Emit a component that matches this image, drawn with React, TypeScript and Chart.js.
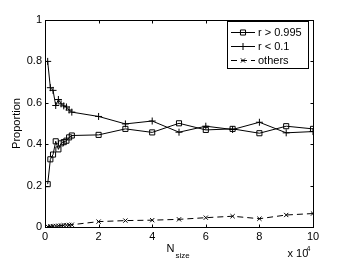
import React, { useEffect, useRef } from "react";
import { Chart, registerables } from "chart.js";

Chart.register(...registerables);

const nSize = [1000, 2000, 3000, 4000, 5000, 6000, 7000, 8000, 9000, 10000, 20000, 30000, 40000, 50000, 60000, 70000, 80000, 90000, 100000];
const rHigh = [0.207, 0.327, 0.35, 0.414, 0.375, 0.404, 0.41, 0.417, 0.433, 0.442, 0.445, 0.474, 0.457, 0.501, 0.469, 0.474, 0.453, 0.487, 0.474];
const rLow = [0.8, 0.673, 0.66, 0.587, 0.616, 0.595, 0.585, 0.58, 0.565, 0.555, 0.534, 0.498, 0.512, 0.458, 0.487, 0.471, 0.506, 0.455, 0.461];
const others = [0.002, 0.003, 0.004, 0.005, 0.006, 0.007, 0.008, 0.009, 0.01, 0.011, 0.026, 0.031, 0.033, 0.037, 0.045, 0.052, 0.04, 0.058, 0.065];
const seriesLabels = ["r > 0.995", "r < 0.1", "others"];
const xTickValues = [0, 20000, 40000, 60000, 80000, 100000];
const yTickValues = [0, 0.2, 0.4, 0.6, 0.8, 1];

const FONT = "'Liberation Sans', Arial, Helvetica, sans-serif";

function drawMarker(ctx: CanvasRenderingContext2D, style: string, r: number, x: number, y: number) {
  ctx.beginPath();
  if (style === "rect") {
    const s = Math.SQRT1_2 * r;
    ctx.rect(x - s, y - s, 2 * s, 2 * s);
  } else if (style === "cross") {
    ctx.moveTo(x - r, y);
    ctx.lineTo(x + r, y);
    ctx.moveTo(x, y - r);
    ctx.lineTo(x, y + r);
  } else {
    const o = Math.SQRT1_2 * r;
    ctx.moveTo(x - o, y - o);
    ctx.lineTo(x + o, y + o);
    ctx.moveTo(x - o, y + o);
    ctx.lineTo(x + o, y - o);
  }
  ctx.stroke();
}

const framePlugin = {
  id: "matlabFrame",
  afterDraw(chart: any) {
    const { ctx, chartArea: a, scales } = chart;
    const xs = scales.x;
    const ys = scales.y;
    ctx.save();
    ctx.strokeStyle = "#000";
    ctx.lineWidth = 1;
    const L = Math.round(a.left) + 0.5;
    const R = Math.round(a.right) + 0.5;
    const T = Math.round(a.top) + 0.5;
    const B = Math.round(a.bottom) + 0.5;
    ctx.strokeRect(L, T, R - L, B - T);
    const tl = 3;
    ctx.beginPath();
    xTickValues.forEach((v) => {
      const px = Math.round(xs.getPixelForValue(v)) + 0.5;
      ctx.moveTo(px, B);
      ctx.lineTo(px, B - tl);
      ctx.moveTo(px, T);
      ctx.lineTo(px, T + tl);
    });
    yTickValues.forEach((v) => {
      const py = Math.round(ys.getPixelForValue(v)) + 0.5;
      ctx.moveTo(L, py);
      ctx.lineTo(L + tl, py);
      ctx.moveTo(R, py);
      ctx.lineTo(R - tl, py);
    });
    ctx.stroke();

    // axis titles
    ctx.fillStyle = "#000";
    ctx.textBaseline = "alphabetic";
    ctx.textAlign = "left";
    ctx.font = `11px ${FONT}`;
    ctx.fillText("N", 166.5, 252);
    ctx.font = `8px ${FONT}`;
    ctx.fillText("size", 175.5, 258);
    ctx.font = `11px ${FONT}`;
    ctx.fillText("x 10", 287.5, 257);
    ctx.font = `7px ${FONT}`;
    ctx.fillText("4", 306.5, 251);

    ctx.save();
    ctx.translate(20, (a.top + a.bottom) / 2);
    ctx.rotate(-Math.PI / 2);
    ctx.textAlign = "center";
    ctx.font = `11px ${FONT}`;
    ctx.fillText("Proportion", 0, 0);
    ctx.restore();

    // legend
    const bx = 227.5, by = 21.5, bw = 81, bh = 47;
    ctx.fillStyle = "#fff";
    ctx.fillRect(bx, by, bw, bh);
    ctx.strokeStyle = "#000";
    ctx.strokeRect(bx, by, bw, bh);
    const rows = [32.5, 46.5, 60.5];
    chart.data.datasets.forEach((ds: any, i: number) => {
      const y = rows[i];
      ctx.save();
      ctx.strokeStyle = ds.borderColor;
      ctx.lineWidth = ds.borderWidth;
      ctx.setLineDash(ds.borderDash || []);
      ctx.beginPath();
      ctx.moveTo(231, y);
      ctx.lineTo(255, y);
      ctx.stroke();
      ctx.setLineDash([]);
      ctx.strokeStyle = ds.pointBorderColor;
      ctx.lineWidth = 1;
      drawMarker(ctx, ds.pointStyle, ds.pointRadius, 243, y);
      ctx.restore();
      ctx.fillStyle = "#000";
      ctx.font = `11px ${FONT}`;
      ctx.textBaseline = "middle";
      ctx.textAlign = "left";
      ctx.fillText(ds.label, 258, y + 0.5);
    });
    ctx.restore();
  },
};

export default function App() {
  const ref = useRef<HTMLCanvasElement | null>(null);
  useEffect(() => {
    document.body.style.margin = "0";
    const canvas = ref.current;
    if (!canvas) return;
    const mk = (vals: number[]) => nSize.map((n, i) => ({ x: n, y: vals[i] }));
    const chart = new Chart(canvas, {
      type: "line",
      data: {
        datasets: [
          {
            label: seriesLabels[0],
            data: mk(rHigh),
            borderColor: "#000",
            borderWidth: 1,
            pointStyle: "rect",
            pointRadius: 3.6,
            pointBorderColor: "#000",
            pointBackgroundColor: "rgba(0,0,0,0)",
            pointBorderWidth: 1,
            fill: false,
            tension: 0,
          },
          {
            label: seriesLabels[1],
            data: mk(rLow),
            borderColor: "#000",
            borderWidth: 1,
            pointStyle: "cross",
            pointRadius: 3.5,
            pointBorderColor: "#000",
            pointBackgroundColor: "rgba(0,0,0,0)",
            pointBorderWidth: 1,
            fill: false,
            tension: 0,
          },
          {
            label: seriesLabels[2],
            data: mk(others),
            borderColor: "#000",
            borderWidth: 1,
            borderDash: [6, 4],
            pointStyle: "crossRot",
            pointRadius: 3,
            pointBorderColor: "#000",
            pointBackgroundColor: "rgba(0,0,0,0)",
            pointBorderWidth: 1,
            fill: false,
            tension: 0,
          },
        ] as any,
      },
      options: {
        responsive: false,
        animation: false,
        devicePixelRatio: 1,
        layout: { padding: { top: 20, right: 33, left: 0, bottom: 0 } },
        plugins: { legend: { display: false }, tooltip: { enabled: false }, title: { display: false } },
        scales: {
          x: {
            type: "linear",
            min: 0,
            max: 100000,
            afterFit: (s: any) => { s.height = 33; },
            afterBuildTicks: (s: any) => { s.ticks = xTickValues.map((v) => ({ value: v })); },
            ticks: {
              color: "#000",
              font: { family: FONT, size: 11 },
              padding: 3,
              maxRotation: 0,
              autoSkip: false,
              callback: (v: any) => String(Number(v) / 10000),
            },
            grid: { display: false, drawTicks: false },
            border: { display: false },
          },
          y: {
            type: "linear",
            min: 0,
            max: 1,
            afterFit: (s: any) => { s.width = 45; },
            afterBuildTicks: (s: any) => { s.ticks = yTickValues.map((v) => ({ value: v })); },
            ticks: {
              color: "#000",
              font: { family: FONT, size: 11 },
              padding: 3,
              autoSkip: false,
              callback: (v: any) => String(Number(Number(v).toFixed(1))),
            },
            grid: { display: false, drawTicks: false },
            border: { display: false },
          },
        },
      } as any,
      plugins: [framePlugin],
    });
    return () => chart.destroy();
  }, []);
  return (
    <div style={{ width: 346, height: 260, background: "#fff" }}>
      <canvas ref={ref} width={346} height={260} style={{ display: "block" }} />
    </div>
  );
}
